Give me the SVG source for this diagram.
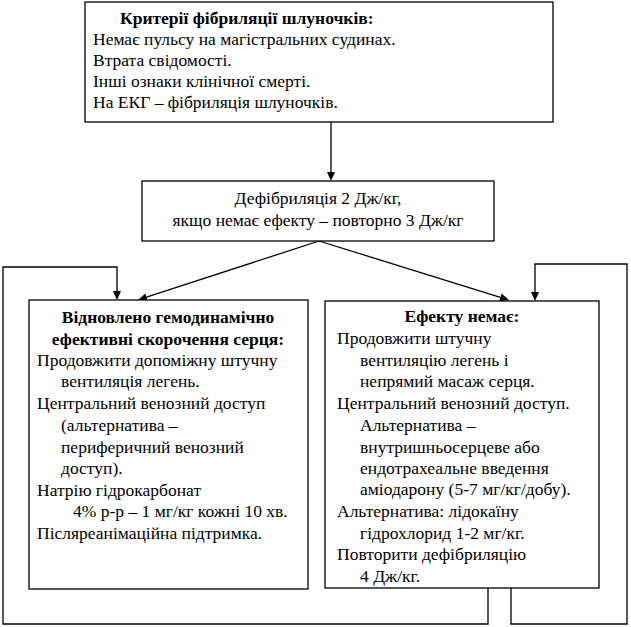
<svg xmlns="http://www.w3.org/2000/svg" width="631" height="627" viewBox="0 0 631 627">
<rect width="631" height="627" fill="#fff"/>
<g id="connectors" stroke="#000" stroke-width="1.3">
<line x1="331" y1="122" x2="331" y2="173" fill="none"/>
<polygon points="327,172 335,172 331,181" fill="#000" stroke="none"/>
<line x1="319" y1="241" x2="146.5" y2="297.2" fill="none"/>
<polygon points="138,300 147.8,301 145.3,293.4" fill="#000" stroke="none"/>
<line x1="319" y1="241" x2="500.4" y2="297.3" fill="none"/>
<polygon points="509,300 499.2,301.2 501.6,293.5" fill="#000" stroke="none"/>
<polyline points="488,588 488,624 3,624 3,267 117,267 117,292" fill="none"/>
<polygon points="113,291 121,291 117,300" fill="#000" stroke="none"/>
<polyline points="511,588 511,624 627,624 627,264 535,264 535,293" fill="none"/>
<polygon points="531,292 539,292 535,301" fill="#000" stroke="none"/>
</g>
<g id="criteria">
<rect x="85" y="2" width="468" height="120" fill="#fff" stroke="#000" stroke-width="1.3"/>
<text font-family="Liberation Serif" font-size="17.5" font-weight="bold" x="120" y="24">Критерії фібриляції шлуночків:</text>
<text font-family="Liberation Serif" font-size="17.5" x="93" y="45">Немає пульсу на магістральних судинах.</text>
<text font-family="Liberation Serif" font-size="17.5" x="93" y="66">Втрата свідомості.</text>
<text font-family="Liberation Serif" font-size="17.5" x="93" y="87">Інші ознаки клінічної смерті.</text>
<text font-family="Liberation Serif" font-size="17.5" x="93" y="108">На ЕКГ – фібриляція шлуночків.</text>
</g>
<g id="defib">
<rect x="142" y="181" width="352" height="60" fill="#fff" stroke="#000" stroke-width="1.3"/>
<text font-family="Liberation Serif" font-size="17.5" text-anchor="middle" x="318" y="204">Дефібриляція 2 Дж/кг,</text>
<text font-family="Liberation Serif" font-size="17.5" text-anchor="middle" x="318" y="226">якщо немає ефекту – повторно 3 Дж/кг</text>
</g>
<g id="restored">
<rect x="29" y="300" width="279" height="289" fill="#fff" stroke="#000" stroke-width="1.3"/>
<text font-family="Liberation Serif" font-size="17.5" font-weight="bold" text-anchor="middle" x="168" y="323">Відновлено гемодинамічно</text>
<text font-family="Liberation Serif" font-size="17.5" font-weight="bold" text-anchor="middle" x="168" y="345">ефективні скорочення серця:</text>
<text font-family="Liberation Serif" font-size="17.5" x="37" y="366">Продовжити допоміжну штучну</text>
<text font-family="Liberation Serif" font-size="17.5" x="61" y="387">вентиляція легень.</text>
<text font-family="Liberation Serif" font-size="17.5" x="37" y="409">Центральний венозний доступ</text>
<text font-family="Liberation Serif" font-size="17.5" x="61" y="431">(альтернатива –</text>
<text font-family="Liberation Serif" font-size="17.5" x="61" y="453">периферичний венозний</text>
<text font-family="Liberation Serif" font-size="17.5" x="61" y="474">доступ).</text>
<text font-family="Liberation Serif" font-size="17.5" x="37" y="496">Натрію гідрокарбонат</text>
<text font-family="Liberation Serif" font-size="17.5" x="73" y="517">4% р-р – 1 мг/кг кожні 10 хв.</text>
<text font-family="Liberation Serif" font-size="17.5" x="37" y="539">Післяреанімаційна підтримка.</text>
</g>
<g id="noeffect">
<rect x="325" y="301" width="274" height="287" fill="#fff" stroke="#000" stroke-width="1.3"/>
<text font-family="Liberation Serif" font-size="17.5" font-weight="bold" text-anchor="middle" x="462" y="322">Ефекту немає:</text>
<text font-family="Liberation Serif" font-size="17.5" x="337" y="344">Продовжити штучну</text>
<text font-family="Liberation Serif" font-size="17.5" x="360" y="366">вентиляцію легень і</text>
<text font-family="Liberation Serif" font-size="17.5" x="360" y="387">непрямий масаж серця.</text>
<text font-family="Liberation Serif" font-size="17.5" x="337" y="409">Центральний венозний доступ.</text>
<text font-family="Liberation Serif" font-size="17.5" x="360" y="431">Альтернатива –</text>
<text font-family="Liberation Serif" font-size="17.5" x="360" y="453">внутришньосерцеве або</text>
<text font-family="Liberation Serif" font-size="17.5" x="360" y="474">ендотрахеальне введення</text>
<text font-family="Liberation Serif" font-size="17.5" x="360" y="495">аміодарону (5-7 мг/кг/добу).</text>
<text font-family="Liberation Serif" font-size="17.5" x="337" y="517">Альтернатива: лідокаїну</text>
<text font-family="Liberation Serif" font-size="17.5" x="360" y="539">гідрохлорид 1-2 мг/кг.</text>
<text font-family="Liberation Serif" font-size="17.5" x="337" y="560">Повторити дефібриляцію</text>
<text font-family="Liberation Serif" font-size="17.5" x="360" y="582">4 Дж/кг.</text>
</g>
</svg>
